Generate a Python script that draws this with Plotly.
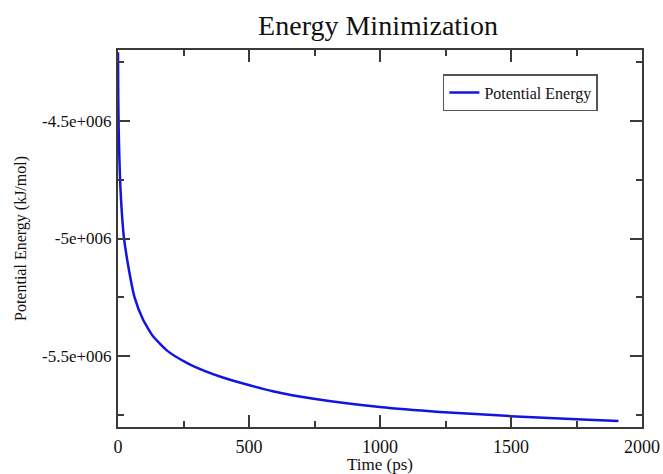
import plotly.graph_objects as go

# Data
time_ps = [0, 1, 2.5, 5, 9, 14, 22, 37, 63, 95, 133, 190, 261, 330, 400, 464, 591, 747, 999, 1228, 1500, 1750, 1910]
energy = [-4.21e6, -4.40e6, -4.53e6, -4.65e6, -4.78e6, -4.88e6, -4.99e6, -5.103e6, -5.249e6, -5.343e6,
          -5.414e6, -5.478e6, -5.527e6, -5.562e6, -5.590e6, -5.611e6, -5.648e6, -5.680e6,
          -5.715e6, -5.736e6, -5.754e6, -5.767e6, -5.775e6]

x_tickvals = [0, 500, 1000, 1500, 2000]
x_ticktext = ["0", "500", "1000", "1500", "2000"]
y_tickvals = [-5.5e6, -5e6, -4.5e6]
y_ticktext = ["-5.5e+006", "-5e+006", "-4.5e+006"]

FONT = "Liberation Serif, Times New Roman, serif"
AX = "#3a3a3a"

fig = go.Figure()
fig.add_trace(go.Scatter(
    x=time_ps, y=energy, mode="lines", name="Potential Energy",
    line=dict(color="rgb(20,20,225)", width=2.5, shape="spline", smoothing=0.5),
))

axis_common = dict(
    showgrid=False, zeroline=False, showline=True, linecolor=AX, linewidth=2,
    mirror="allticks", ticks="inside", ticklen=12, tickwidth=1.5, tickcolor=AX,
    automargin=False,
)

fig.update_xaxes(
    range=[0, 2000], tickvals=x_tickvals, ticktext=x_ticktext,
    tickfont=dict(family=FONT, size=18, color="#111"),
    minor=dict(ticks="inside", ticklen=6, tickwidth=1.5, tickcolor=AX, dtick=250, tick0=0),
    title=dict(text="Time (ps)", font=dict(family=FONT, size=17, color="#111"), standoff=9),
    ticklabelstandoff=2,
    **axis_common,
)
fig.update_yaxes(
    range=[-5.8e6, -4.2e6], tickvals=y_tickvals, ticktext=y_ticktext,
    tickfont=dict(family=FONT, size=17, color="#111"),
    minor=dict(ticks="inside", ticklen=6, tickwidth=1.5, tickcolor=AX, dtick=250000, tick0=0),
    title=dict(text="Potential Energy (kJ/mol)", font=dict(family=FONT, size=16, color="#111"), standoff=11),
    ticklabelstandoff=1,
    **axis_common,
)

fig.update_layout(
    width=663, height=474,
    margin=dict(l=118, r=21, t=50, b=47),
    paper_bgcolor="white", plot_bgcolor="white",
    title=dict(text="Energy Minimization", font=dict(family=FONT, size=28, color="#111"),
               x=378 / 663, xanchor="center", xref="container",
               y=1 - 25 / 474, yanchor="middle", yref="container"),
    showlegend=True,
    legend=dict(x=0.62, y=0.936, xanchor="left", yanchor="top",
                bgcolor="white", bordercolor="#555", borderwidth=1.5,
                font=dict(family=FONT, size=16, color="#111"),
                itemwidth=30, tracegroupgap=0),
)

fig.write_html("out.html")
